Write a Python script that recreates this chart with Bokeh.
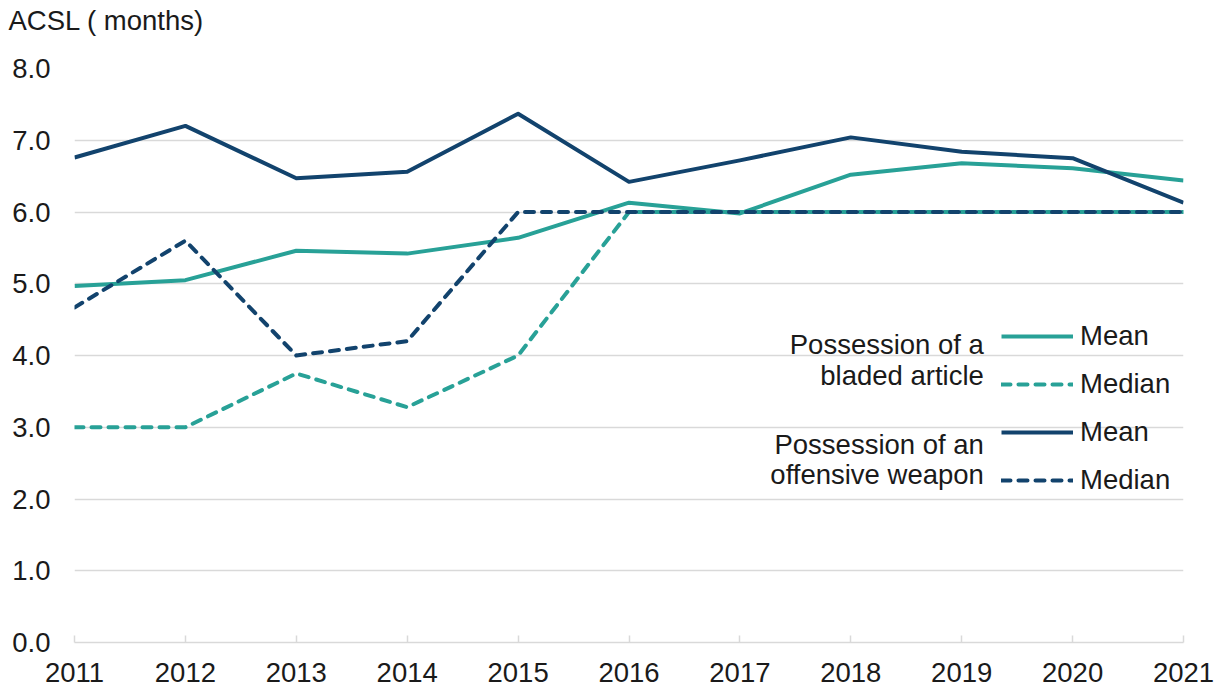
from bokeh.plotting import figure
from bokeh.models import Range1d, FixedTicker, Legend, LegendItem, Label, CustomJSTickFormatter
from bokeh.embed import file_html
from bokeh.resources import INLINE

years = [2011, 2012, 2013, 2014, 2015, 2016, 2017, 2018, 2019, 2020, 2021]
bladed_mean = [4.97, 5.05, 5.46, 5.42, 5.64, 6.13, 5.98, 6.52, 6.68, 6.61, 6.44]
bladed_median = [3.0, 3.0, 3.75, 3.28, 4.0, 6.0, 6.0, 6.0, 6.0, 6.0, 6.0]
offensive_mean = [6.76, 7.2, 6.47, 6.56, 7.37, 6.42, 6.72, 7.04, 6.84, 6.75, 6.13]
offensive_median = [4.67, 5.6, 4.0, 4.2, 6.0, 6.0, 6.0, 6.0, 6.0, 6.0, 6.0]
y_ticks = [0, 1, 2, 3, 4, 5, 6, 7, 8]
group_labels = ["Possession of a", "bladed article", "Possession of an", "offensive weapon"]
y_title = "ACSL ( months)"

TEAL = "#28A197"
NAVY = "#12436D"
GRID = "#D9D9D9"
FONT = "Liberation Sans"
TXT = "#1a1a1a"
FS = "27.5px"

p = figure(width=1216, height=688, output_backend="svg", toolbar_location=None,
           x_range=Range1d(2011, 2021), y_range=Range1d(0, 8),
           min_border_left=74, min_border_right=33, min_border_top=68, min_border_bottom=46,
           title=y_title + "\n")
p.outline_line_color = None
p.background_fill_color = "white"

p.title.text_font = FONT
p.title.text_font_size = FS
p.title.text_font_style = "normal"
p.title.text_color = TXT
p.title.align = "left"
p.title.vertical_align = "top"
p.title.offset = -66
p.title.standoff = 0

p.xaxis.ticker = FixedTicker(ticks=years)
p.yaxis.ticker = FixedTicker(ticks=y_ticks)
p.yaxis.formatter = CustomJSTickFormatter(code="return tick.toFixed(1);")

for ax in (p.xaxis, p.yaxis):
    ax.major_label_text_font = FONT
    ax.major_label_text_font_size = FS
    ax.major_label_text_color = TXT
    ax.minor_tick_line_color = None

p.xaxis.axis_line_color = GRID
p.xaxis.axis_line_width = 1.5
p.xaxis.major_tick_line_color = GRID
p.xaxis.major_tick_line_width = 1.5
p.xaxis.major_tick_in = 7
p.xaxis.major_tick_out = 0
p.xaxis.major_label_standoff = 20

p.yaxis.axis_line_color = None
p.yaxis.major_tick_line_color = None
p.yaxis.major_label_standoff = 18

p.xgrid.grid_line_color = None
p.ygrid.grid_line_color = GRID
p.ygrid.grid_line_width = 1.5

LW = 4
r1 = p.line(years, bladed_mean, line_color=TEAL, line_width=LW, line_join="round")
r2 = p.line(years, bladed_median, line_color=TEAL, line_width=LW, line_dash="9 8", line_cap="round", line_join="round")
r3 = p.line(years, offensive_mean, line_color=NAVY, line_width=LW, line_join="round")
r4 = p.line(years, offensive_median, line_color=NAVY, line_width=LW, line_dash="9 8", line_cap="round", line_join="round")

legend = Legend(items=[LegendItem(label="Mean", renderers=[r1]),
                       LegendItem(label="Median", renderers=[r2]),
                       LegendItem(label="Mean", renderers=[r3]),
                       LegendItem(label="Median", renderers=[r4])],
                location=(927, 146), orientation="vertical",
                glyph_width=72, glyph_height=30, spacing=16, label_standoff=7,
                padding=0, margin=0, border_line_color=None, background_fill_alpha=0,
                label_text_font=FONT, label_text_font_size=FS, label_text_color=TXT)
p.add_layout(legend, "center")

label_y = [4.15, 3.72, 2.76, 2.34]
for t, yy in zip(group_labels, label_y):
    p.add_layout(Label(x=2019.2, y=yy, text=t, text_align="right", text_baseline="alphabetic",
                       text_font=FONT, text_font_size=FS, text_color=TXT))

open("out.html", "w").write(file_html(p, INLINE))
